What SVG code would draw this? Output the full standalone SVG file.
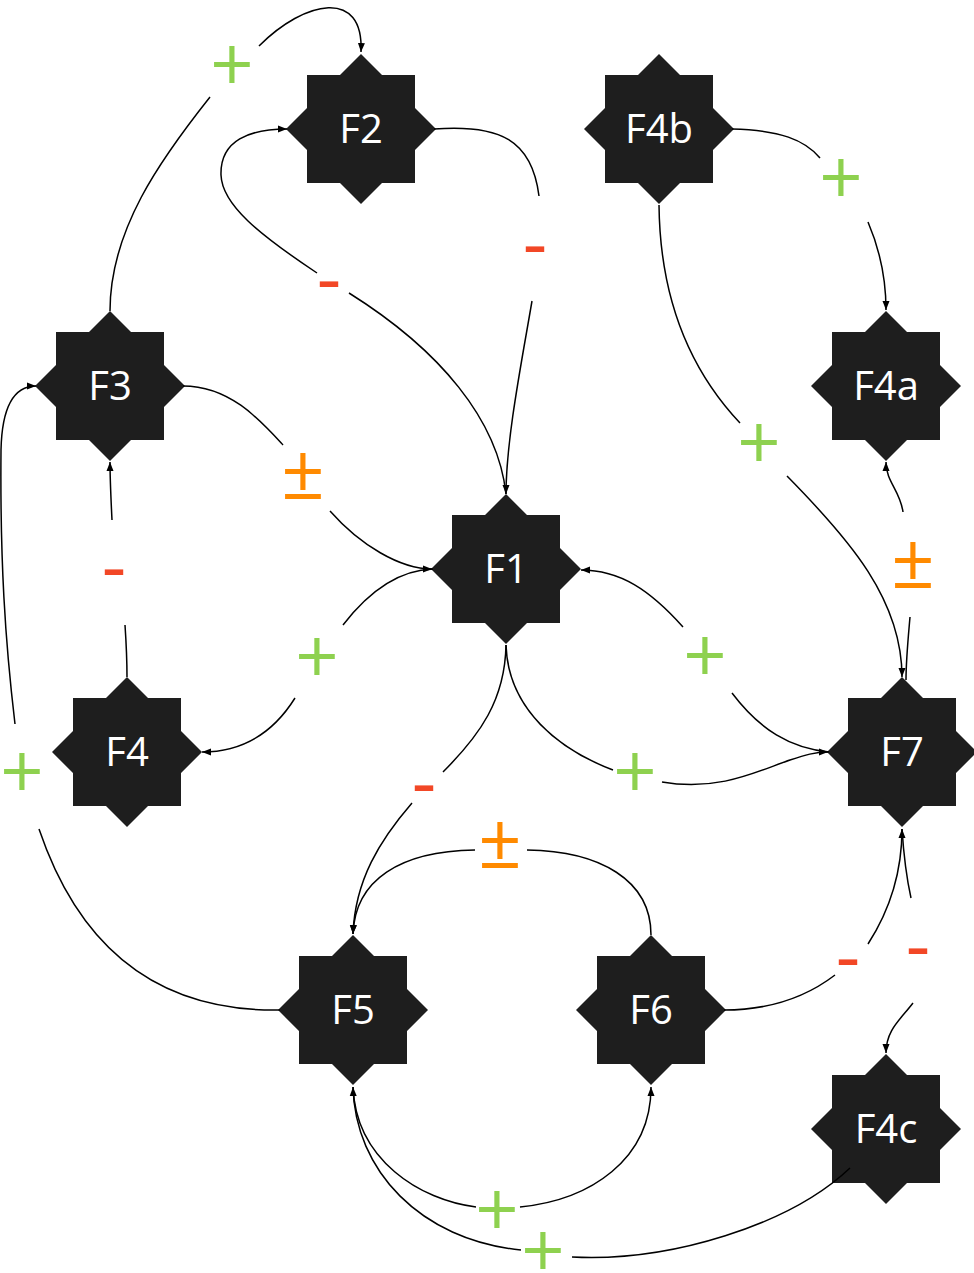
<svg xmlns="http://www.w3.org/2000/svg" width="974" height="1273" viewBox="0 0 974 1273">
<style>
.node{fill:#1e1e1e}
.nt{fill:#ffffff;font-family:"Open Sans","Noto Sans",sans-serif;font-size:40px;text-anchor:middle}
.e{fill:none;stroke:#000;stroke-width:1.5}
.lbl{font-family:"Open Sans","Noto Sans",sans-serif;font-size:76px;text-anchor:middle}
.pos{fill:#8ed14f}
.neg{fill:#f24726}
.amb{fill:#ff8a00}
</style>
<defs>
<polygon id="star" points="0,-75 21,-54 54,-54 54,-21 75,0 54,21 54,54 21,54 0,75 -21,54 -54,54 -54,21 -75,0 -54,-21 -54,-54 -21,-54"/>
<marker id="arr" markerUnits="userSpaceOnUse" markerWidth="10" markerHeight="8" refX="9" refY="4" orient="auto"><path d="M0,0.5 L9,4 L0,7.5 Z" fill="#000"/></marker>
</defs>
<g id="F2"><use href="#star" class="node" x="361" y="129"/><text class="nt" x="361" y="143">F2</text></g>
<g id="F4b"><use href="#star" class="node" x="659" y="129"/><text class="nt" x="659" y="143">F4b</text></g>
<g id="F3"><use href="#star" class="node" x="110" y="386"/><text class="nt" x="110" y="400">F3</text></g>
<g id="F4a"><use href="#star" class="node" x="886" y="386"/><text class="nt" x="886" y="400">F4a</text></g>
<g id="F1"><use href="#star" class="node" x="506" y="569"/><text class="nt" x="506" y="583">F1</text></g>
<g id="F4"><use href="#star" class="node" x="127" y="752"/><text class="nt" x="127" y="766">F4</text></g>
<g id="F7"><use href="#star" class="node" x="902" y="752"/><text class="nt" x="902" y="766">F7</text></g>
<g id="F5"><use href="#star" class="node" x="353" y="1010"/><text class="nt" x="353" y="1024">F5</text></g>
<g id="F6"><use href="#star" class="node" x="651" y="1010"/><text class="nt" x="651" y="1024">F6</text></g>
<g id="F4c"><use href="#star" class="node" x="886" y="1129"/><text class="nt" x="886" y="1143">F4c</text></g>
<g id="connectors">
<path class="e" d="M110,311 C110,230 160,160 210,97"/>
<path class="e" d="M259,46 C305,0 364,-12 361,52" marker-end="url(#arr)"/>
<path class="e" d="M506,494 C498,420 440,350 349,293"/>
<path class="e" d="M317,273 C260,235 222,205 221,175 C220,140 250,129 287,129" marker-end="url(#arr)"/>
<path class="e" d="M434,129 C500,124 532,140 539,196"/>
<path class="e" d="M532,301 C522,360 506,440 506,494" marker-end="url(#arr)"/>
<path class="e" d="M732,129 C780,130 805,140 820,158"/>
<path class="e" d="M868,222 C880,250 886,280 886,310" marker-end="url(#arr)"/>
<path class="e" d="M659,205 C660,300 690,370 740,423"/>
<path class="e" d="M787,476 C850,540 902,600 902,677" marker-end="url(#arr)"/>
<path class="e" d="M906,680 C906,660 908,640 910,617"/>
<path class="e" d="M903,512 C900,490 886,482 886,462" marker-end="url(#arr)"/>
<path class="e" d="M183,386 C230,386 260,420 283,445"/>
<path class="e" d="M330,511 C360,545 400,569 432,569" marker-end="url(#arr)"/>
<path class="e" d="M433,569 C400,570 370,590 343,625"/>
<path class="e" d="M295,698 C275,730 245,752 202,752" marker-end="url(#arr)"/>
<path class="e" d="M127,677 C127,660 126,640 125,625"/>
<path class="e" d="M112,520 C111,500 110,480 110,462" marker-end="url(#arr)"/>
<path class="e" d="M280,1010 C160,1012 80,950 39,829"/>
<path class="e" d="M15,724 C5,640 0,560 1,450 C2,405 15,386 36,386" marker-end="url(#arr)"/>
<path class="e" d="M829,752 C790,748 760,730 732,693"/>
<path class="e" d="M683,627 C650,590 620,570 581,570" marker-end="url(#arr)"/>
<path class="e" d="M506,645 C508,710 560,750 613,770"/>
<path class="e" d="M662,782 C720,792 760,770 790,760 C805,755 815,752 828,752" marker-end="url(#arr)"/>
<path class="e" d="M506,645 C505,700 480,735 443,772"/>
<path class="e" d="M412,803 C380,840 355,880 353,934" marker-end="url(#arr)"/>
<path class="e" d="M651,935 C651,880 600,851 527,850"/>
<path class="e" d="M475,850 C400,851 355,880 353,934" marker-end="url(#arr)"/>
<path class="e" d="M724,1010 C770,1010 805,998 835,975"/>
<path class="e" d="M868,944 C890,910 902,870 902,829" marker-end="url(#arr)"/>
<path class="e" d="M902,829 C904,860 907,880 911,898"/>
<path class="e" d="M913,1003 C900,1020 886,1030 886,1053" marker-end="url(#arr)"/>
<path class="e" d="M353,1087 C356,1160 420,1200 476,1207"/>
<path class="e" d="M520,1207 C590,1200 651,1160 651,1087" marker-end="url(#arr)"/>
<path class="e" d="M850,1168 C790,1225 670,1262 572,1257"/>
<path class="e" d="M521,1250 C420,1240 355,1170 353,1087" marker-end="url(#arr)"/>
</g>
<g id="labels">
<text class="lbl pos" x="232" y="92">+</text>
<text class="lbl pos" x="841" y="205">+</text>
<text class="lbl pos" x="759" y="470">+</text>
<text class="lbl pos" x="317" y="684">+</text>
<text class="lbl pos" x="705" y="683">+</text>
<text class="lbl pos" x="635" y="799">+</text>
<text class="lbl pos" x="22" y="799">+</text>
<text class="lbl pos" x="497" y="1237">+</text>
<text class="lbl pos" x="543" y="1278">+</text>
<text class="lbl neg" x="329" y="305">-</text>
<text class="lbl neg" x="535" y="270">-</text>
<text class="lbl neg" x="114" y="593">-</text>
<text class="lbl neg" x="424" y="809">-</text>
<text class="lbl neg" x="848" y="983">-</text>
<text class="lbl neg" x="918" y="972">-</text>
<text class="lbl amb" x="303" y="499">±</text>
<text class="lbl amb" x="913" y="588">±</text>
<text class="lbl amb" x="500" y="868">±</text>
</g>
</svg>
